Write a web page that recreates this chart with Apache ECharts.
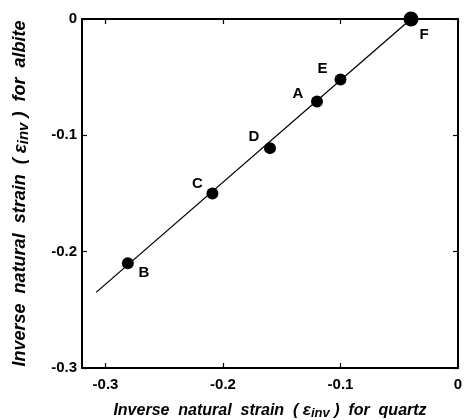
<!DOCTYPE html>
<html>
<head>
<meta charset="utf-8">
<script src="https://cdn.jsdelivr.net/npm/echarts@6/dist/echarts.min.js"></script>
<style>
  html, body { margin: 0; padding: 0; background: #fff; }
  #chart { width: 464px; height: 420px; }
</style>
</head>
<body>
<div id="chart"></div>
<script>
// Sample points: quartz strain (x) vs albite strain (y)
const sampleNames = ['A', 'B', 'C', 'D', 'E', 'F'];
const quartzStrain = [-0.12, -0.281, -0.209, -0.16, -0.10, -0.04];
const albiteStrain = [-0.071, -0.21, -0.15, -0.111, -0.052, 0];

// Fitted line end points
const fitX = [-0.308, -0.04];
const fitY = [-0.235, 0];

const xTicks = [-0.3, -0.2, -0.1, 0];

// label offsets relative to each dot (styling only)
const labelOffsets = {
    A: [-19, -8], B: [16, 10], C: [-15, -10],
    D: [-16, -11], E: [-18, -11], F: [13, 16]
};

const font = '"Liberation Sans", Arial, sans-serif';

const chart = echarts.init(document.getElementById('chart'), null, { renderer: 'canvas' });

function nameStyle(size) {
    return {
        fontFamily: font,
        fontStyle: 'italic',
        fontWeight: 'bold',
        fontSize: size,
        color: '#000',
        rich: {
            e: { fontFamily: font, fontStyle: 'italic', fontWeight: 'bold', fontSize: size + 1, color: '#000' },
            s: { fontFamily: font, fontStyle: 'italic', fontWeight: 'bold', fontSize: size - 3, color: '#000', verticalAlign: 'bottom', padding: [6, 0, 0, 0] }
        }
    };
}

const axisLine = { show: true, onZero: false, lineStyle: { color: '#000', width: 2 } };
const tickStyle = { inside: true, length: 5, lineStyle: { color: '#000', width: 1.2 } };
const labelStyle = { fontFamily: font, fontWeight: 'bold', fontSize: 15, color: '#000' };

const option = {
    backgroundColor: '#fff',
    animation: false,
    grid: { left: 82, right: 6, top: 19, bottom: 52, outerBoundsMode: 'none', containLabel: false },
    xAxis: [{
        type: 'value',
        min: -0.32,
        max: 0,
        name: 'Inverse  natural  strain  ( {e|ε}{s|inv} )  for  quartz',
        nameLocation: 'middle',
        nameGap: 33,
        nameTextStyle: nameStyle(16),
        axisLine: axisLine,
        axisTick: Object.assign({ customValues: xTicks }, tickStyle),
        axisLabel: Object.assign({ customValues: xTicks, margin: 9 }, labelStyle),
        splitLine: { show: false }
    }, {
        type: 'value',
        position: 'top',
        min: -0.32,
        max: 0,
        axisLine: axisLine,
        axisTick: Object.assign({ customValues: xTicks }, tickStyle),
        axisLabel: { show: false },
        splitLine: { show: false }
    }],
    yAxis: [{
        type: 'value',
        min: -0.3,
        max: 0,
        interval: 0.1,
        name: 'Inverse  natural  strain  ( {e|ε}{s|inv} )  for  albite',
        nameLocation: 'middle',
        nameGap: 51,
        nameTextStyle: nameStyle(18),
        axisLine: axisLine,
        axisTick: tickStyle,
        axisLabel: Object.assign({ margin: 5 }, labelStyle),
        splitLine: { show: false }
    }, {
        type: 'value',
        position: 'right',
        min: -0.3,
        max: 0,
        interval: 0.1,
        axisLine: axisLine,
        axisTick: tickStyle,
        axisLabel: { show: false },
        splitLine: { show: false }
    }],
    series: [{
        type: 'line',
        data: fitX.map((x, i) => [x, fitY[i]]),
        symbol: 'none',
        lineStyle: { color: '#000', width: 1.3 },
        z: 1
    }, {
        type: 'scatter',
        data: sampleNames.map((n, i) => ({
            name: n,
            value: [quartzStrain[i], albiteStrain[i]],
            symbolSize: n === 'F' ? 15 : 12,
            label: { offset: labelOffsets[n] }
        })),
        itemStyle: { color: '#000', opacity: 1 },
        label: {
            show: true,
            position: 'inside',
            formatter: p => p.name,
            fontFamily: font,
            fontWeight: 'bold',
            fontSize: 15,
            color: '#000'
        },
        z: 2
    }]
};

chart.setOption(option);
</script>
</body>
</html>
